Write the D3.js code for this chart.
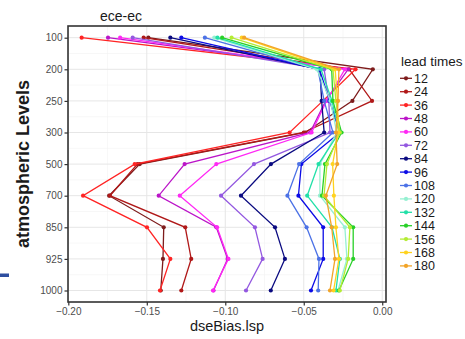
<!DOCTYPE html>
<html>
<head>
<meta charset="utf-8">
<script src="https://cdn.jsdelivr.net/npm/d3@7"></script>
<style>
  body { margin: 0; background: #fff; }
  svg { display: block; font-family: "Liberation Sans", Arial, sans-serif; }
</style>
</head>
<body>
<svg id="chart" width="465" height="339"></svg>
<script>
// pressure levels, top to bottom
const levels = [100, 200, 250, 300, 500, 700, 850, 925, 1000];
const leadTimes = [12, 24, 36, 48, 60, 72, 84, 96, 108, 120, 132, 144, 156, 168, 180];
const xTicks = [-0.20, -0.15, -0.10, -0.05, 0.00];

// dseBias.lsp per lead time, one value per level
const s12  = [-0.149, -0.006, -0.019, -0.049, -0.1545, -0.174, -0.1392, -0.1397, -0.1411];
const s24  = [-0.152, -0.021, -0.0065, -0.050, -0.156, -0.1735, -0.1255, -0.1217, -0.128];
const s36  = [-0.1915, -0.017, -0.0378, -0.059, -0.1577, -0.1906, -0.1499, -0.135, -0.1416];
const s48  = [-0.1747, -0.0217, -0.036, -0.046, -0.1259, -0.1424, -0.1057, -0.0985, -0.1075];
const s60  = [-0.167, -0.0238, -0.0355, -0.045, -0.1057, -0.129, -0.1052, -0.098, -0.1078];
const s72  = [-0.159, -0.037, -0.034, -0.0333, -0.0817, -0.1027, -0.0811, -0.0762, -0.0868];
const s84  = [-0.135, -0.0397, -0.0386, -0.037, -0.0709, -0.090, -0.0683, -0.062, -0.071];
const s96  = [-0.128, -0.040, -0.0335, -0.027, -0.0515, -0.0534, -0.0376, -0.0376, -0.0454];
const s108 = [-0.113, -0.041, -0.037, -0.0314, -0.053, -0.0604, -0.0482, -0.0403, -0.0408];
const s120 = [-0.107, -0.0416, -0.033, -0.029, -0.0397, -0.0397, -0.0238, -0.0225, -0.0282];
const s132 = [-0.105, -0.039, -0.032, -0.0275, -0.0406, -0.0478, -0.032, -0.027, -0.0295];
const s144 = [-0.102, -0.0322, -0.0314, -0.0259, -0.0365, -0.0384, -0.0185, -0.0185, -0.0276];
const s156 = [-0.096, -0.0314, -0.0295, -0.027, -0.0352, -0.0371, -0.0206, -0.0217, -0.027];
const s168 = [-0.0895, -0.030, -0.0285, -0.028, -0.0316, -0.0308, -0.0295, -0.0276, -0.031];
const s180 = [-0.088, -0.0276, -0.0282, -0.0295, -0.0287, -0.0359, -0.0322, -0.0301, -0.0333];

const colors = ["#7e1c1c", "#b01818", "#ff2424", "#bb14c8", "#ff28f4", "#9358e0", "#0a0a80",
  "#0c0ce6", "#4c72e6", "#96f0d2", "#22e0a8", "#28d028", "#b4ec34", "#ffd21e", "#f2a428"];

const series = [s12, s24, s36, s48, s60, s72, s84, s96, s108, s120, s132, s144, s156, s168, s180];

const svg = d3.select("#chart");
const panel = { left: 68, right: 386, top: 26, bottom: 302 };

const x = d3.scaleLinear().domain([-0.2002, 0.0024]).range([panel.left, panel.right]);
const y = d3.scalePoint().domain(levels).range([37.7, 290.5]);

// grid
const grid = svg.append("g");
const minorX = d3.range(-0.175, 0.001, 0.05);
grid.selectAll(".mx").data(minorX).join("line")
  .attr("x1", d => x(d)).attr("x2", d => x(d))
  .attr("y1", panel.top).attr("y2", panel.bottom)
  .attr("stroke", "#f2f2f2").attr("stroke-width", 0.6);
const minorY = levels.slice(1).map((l, i) => (y(levels[i]) + y(l)) / 2);
grid.selectAll(".my").data(minorY).join("line")
  .attr("x1", panel.left).attr("x2", panel.right)
  .attr("y1", d => d).attr("y2", d => d)
  .attr("stroke", "#f2f2f2").attr("stroke-width", 0.6);
grid.selectAll(".gx").data(xTicks).join("line")
  .attr("x1", d => x(d)).attr("x2", d => x(d))
  .attr("y1", panel.top).attr("y2", panel.bottom)
  .attr("stroke", "#e6e6e6").attr("stroke-width", 1);
grid.selectAll(".gy").data(levels).join("line")
  .attr("x1", panel.left).attr("x2", panel.right)
  .attr("y1", d => y(d)).attr("y2", d => y(d))
  .attr("stroke", "#e6e6e6").attr("stroke-width", 1);

// series
const line = d3.line().x(d => x(d.v)).y(d => y(d.lev));
series.forEach((vals, i) => {
  const pts = vals.map((v, j) => ({ v, lev: levels[j] }));
  const g = svg.append("g");
  g.append("path").datum(pts)
    .attr("d", line)
    .attr("fill", "none")
    .attr("stroke", colors[i])
    .attr("stroke-width", 1.3);
  g.selectAll("circle").data(pts).join("circle")
    .attr("cx", d => x(d.v)).attr("cy", d => y(d.lev))
    .attr("r", 2.1)
    .attr("fill", colors[i]);
});

// panel border
svg.append("rect")
  .attr("x", panel.left).attr("y", panel.top)
  .attr("width", panel.right - panel.left).attr("height", panel.bottom - panel.top)
  .attr("fill", "none").attr("stroke", "#333").attr("stroke-width", 1.6);

// axes
const xAxis = svg.append("g")
  .attr("transform", `translate(0,${panel.bottom})`)
  .call(d3.axisBottom(x).tickValues(xTicks).tickFormat(d3.format(".2f")).tickSize(3.5).tickPadding(2));
const yAxis = svg.append("g")
  .attr("transform", `translate(${panel.left},0)`)
  .call(d3.axisLeft(y).tickSize(3.5).tickPadding(2));
[xAxis, yAxis].forEach(a => {
  a.select(".domain").remove();
  a.selectAll(".tick line").attr("stroke", "#333").attr("stroke-width", 1.2);
  a.selectAll(".tick text").attr("fill", "#4d4d4d").style("font-size", "10px")
    .style("font-family", "Liberation Sans, Arial, sans-serif");
});

// titles
svg.append("text").attr("x", 100).attr("y", 20.5)
  .style("font-size", "14px").attr("fill", "#1a1a1a").text("ece-ec");
svg.append("text").attr("x", (panel.left + panel.right) / 2).attr("y", 331)
  .attr("text-anchor", "middle").style("font-size", "14.5px").attr("fill", "#1a1a1a")
  .text("dseBias.lsp");
svg.append("text")
  .attr("transform", `translate(29,${(panel.top + panel.bottom) / 2}) rotate(-90)`)
  .attr("text-anchor", "middle").style("font-size", "18px").style("font-weight", "bold")
  .attr("fill", "#1a1a1a").text("atmospheric Levels");

// legend
const legend = svg.append("g");
legend.append("text").attr("x", 401).attr("y", 66)
  .style("font-size", "13.5px").attr("fill", "#1a1a1a").text("lead times");
const item = legend.selectAll(".item").data(leadTimes).join("g")
  .attr("transform", (d, i) => `translate(0,${78.3 + i * 13.4})`);
item.append("line").attr("x1", 400).attr("x2", 412).attr("stroke", (d, i) => colors[i]).attr("stroke-width", 1.3);
item.append("circle").attr("cx", 406).attr("r", 2.1).attr("fill", (d, i) => colors[i]);
item.append("text").attr("x", 414).attr("dy", "0.36em")
  .style("font-size", "12.5px").attr("fill", "#1a1a1a").text(d => d);

// stray blue mark at the left edge of the picture
svg.append("rect").attr("x", 0).attr("y", 273.5).attr("width", 9).attr("height", 3.5).attr("fill", "#2f4fa0");
</script>
</body>
</html>
